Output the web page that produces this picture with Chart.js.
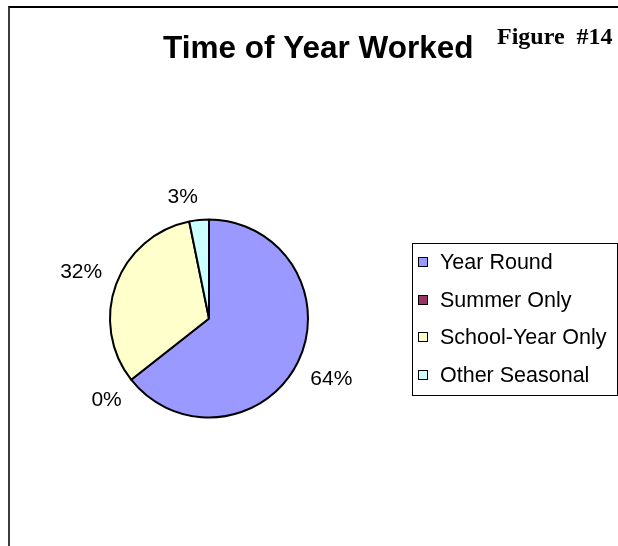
<!DOCTYPE html>
<html>
<head>
<meta charset="utf-8">
<script src="https://cdn.jsdelivr.net/npm/chart.js@4/dist/chart.umd.min.js"></script>
<style>
  body { margin: 0; background: #fff; }
  #wrap { position: relative; width: 618px; height: 546px; }
  #frame { position: absolute; left: 8px; top: 6px; right: 0; bottom: 0;
           border-left: 2px solid #3a3a3a; border-top: 2px solid #000; }
  canvas { position: absolute; left: 0; top: 0; }
</style>
</head>
<body>
<div id="wrap">
  <div id="frame"></div>
  <canvas id="pieChart"></canvas>
</div>
<script>
// ================= data =================
const labels = ["Year Round", "Summer Only", "School-Year Only", "Other Seasonal"];
const shares = [64.4, 0, 32.4, 3.2];
const colors = ["#9999FF", "#993366", "#FFFFCC", "#CCFFFF"];

const titleText = "Time of Year Worked";
const figureText = "Figure  #14";

const labelFont = "21px 'Liberation Sans', Arial, sans-serif";
const legendFont = "21.5px 'Liberation Sans', Arial, sans-serif";

// percent labels outside each slice
const percentLabels = {
    id: 'percentLabels',
    afterDatasetsDraw(chart) {
        const ctx = chart.ctx;
        const meta = chart.getDatasetMeta(0);
        const data = chart.data.datasets[0].data;
        const total = data.reduce((a, b) => a + b, 0);
        ctx.save();
        ctx.font = labelFont;
        ctx.fillStyle = '#000';
        ctx.textAlign = 'center';
        ctx.textBaseline = 'middle';
        meta.data.forEach((arc, i) => {
            const p = arc.getProps(['x', 'y', 'startAngle', 'endAngle', 'outerRadius'], true);
            const mid = (p.startAngle + p.endAngle) / 2;
            const txt = Math.round(data[i] / total * 100) + '%';
            const w = ctx.measureText(txt).width;
            const cx = Math.cos(mid), sy = Math.sin(mid);
            const half = Math.abs(cx) * w / 2 + Math.abs(sy) * 7;
            const d = p.outerRadius + 15 + half;
            // tiny slices near the top get nudged left, away from the seam
            const nudge = (data[i] / total < 0.05 && sy < 0) ? -14 : 0;
            ctx.fillText(txt, p.x + cx * d + nudge, p.y + sy * d + 1);
        });
        ctx.restore();
    }
};

// title, figure number and framed legend
const decorations = {
    id: 'decorations',
    afterDraw(chart) {
        const ctx = chart.ctx;
        ctx.save();
        ctx.fillStyle = '#000';
        ctx.textBaseline = 'alphabetic';
        ctx.textAlign = 'left';
        ctx.font = "bold 31.5px 'Liberation Sans', Arial, sans-serif";
        ctx.fillText(titleText, 163, 58);
        ctx.font = "bold 24px 'Liberation Serif', 'Times New Roman', serif";
        ctx.fillText(figureText, 497, 44);

        // legend box
        const lx = 412, ly = 243, lw = 205, lh = 152;
        ctx.strokeStyle = '#000';
        ctx.lineWidth = 1;
        ctx.strokeRect(lx + 0.5, ly + 0.5, lw, lh);
        ctx.font = legendFont;
        ctx.textBaseline = 'middle';
        const ds = chart.data.datasets[0];
        chart.data.labels.forEach((name, i) => {
            const y = 262 + i * 37.7;
            const top = Math.round(y - 5);
            ctx.fillStyle = ds.backgroundColor[i];
            ctx.fillRect(418, top, 10, 10);
            ctx.strokeRect(418.5, top + 0.5, 9, 9);
            ctx.fillStyle = '#000';
            ctx.fillText(name, 440, y + 1);
        });
        ctx.restore();
    }
};

const ctx1 = document.getElementById('pieChart').getContext('2d');
const chart1 = new Chart(ctx1, {
    type: 'pie',
    data: {
        labels: labels,
        datasets: [{
            data: shares,
            backgroundColor: colors,
            borderColor: '#000',
            borderWidth: 2
        }]
    },
    options: {
        responsive: true,
        maintainAspectRatio: false,
        animation: false,
        layout: { padding: { left: 109, right: 309, top: 218, bottom: 127 } },
        plugins: {
            legend: { display: false },
            tooltip: { enabled: false },
            title: { display: false }
        }
    },
    plugins: [percentLabels, decorations]
});
</script>
</body>
</html>
